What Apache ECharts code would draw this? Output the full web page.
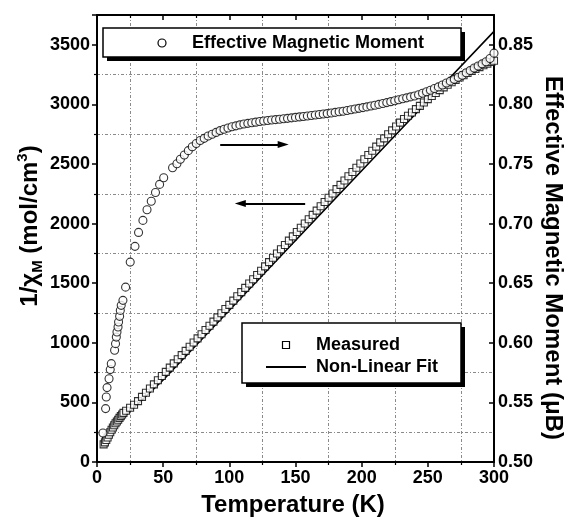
<!DOCTYPE html>
<html><head><meta charset="utf-8">
<script src="https://cdn.jsdelivr.net/npm/echarts@6/dist/echarts.min.js"></script>
<style>html,body{margin:0;padding:0;background:#fff}#c{width:566px;height:517px}</style>
</head><body><div id="c"></div>
<script>
// Effective magnetic moment (right axis, µB) vs temperature (K)
const circT = [4.5,6.5,7.0,7.6,9.1,10.0,10.8,13.3,14.0,14.6,15.1,15.9,16.3,17.1,17.6,18.3,19.6,21.6,25.1,28.7,31.4,34.7,37.8,41.0,44.2,47.3,50.4,57.1,60.4,
  63,66,69,72,75,78,81,84,87,90,93,96,99,102,105,108,111,114,117,120,123,126,129,132,135,138,141,144,147,150,
  153,156,159,162,165,168,171,174,177,180,183,186,189,192,195,198,201,204,207,210,213,216,219,222,225,228,231,234,237,240,
  243,246,249,252,255,258,261,264,267,270,273,276,279,282,285,288,291,294,297,300];
const circMu = [0.5243,0.5448,0.5545,0.5624,0.5699,0.5775,0.5825,0.5937,0.5993,0.6048,0.6090,0.6132,0.6174,0.6222,0.6272,0.6314,0.6356,0.6467,0.6677,0.6809,0.6926,0.7027,0.7116,0.7188,0.7261,0.7329,0.7385,0.7469,0.7502,
  0.7540,0.7575,0.7612,0.7645,0.7672,0.7697,0.7715,0.7735,0.7750,0.7765,0.7780,0.7792,0.7802,0.7812,0.7820,0.7828,0.7835,0.7841,0.7846,0.7851,0.7856,0.7861,0.7865,0.7869,0.7872,0.7876,0.7879,0.7883,0.7887,0.7891,
  0.7895,0.7899,0.7903,0.7907,0.7911,0.7915,0.7919,0.7923,0.7928,0.7933,0.7938,0.7943,0.7949,0.7955,0.7961,0.7967,0.7973,0.7979,0.7986,0.7993,0.8000,0.8007,0.8015,0.8023,0.8031,0.8039,0.8047,0.8055,0.8063,0.8071,
  0.8081,0.8093,0.8106,0.8119,0.8133,0.8147,0.8163,0.8180,0.8195,0.8210,0.8228,0.8245,0.8265,0.8285,0.8305,0.8322,0.8340,0.8358,0.8385,0.8430];

// Measured 1/chi_M (left axis, mol/cm^3)
const sqT = [5,6,7,8,9,10,11,12,13,14,15,16,17,18,19,20,22,
  25,28,31,34,37,40,43,46,49,52,55,58,61,64,67,70,73,76,79,82,85,88,91,94,97,100,
  103,106,109,112,115,118,121,124,127,130,133,136,139,142,145,148,151,154,157,160,163,166,169,172,175,178,181,184,187,190,193,196,199,
  202,205,208,211,214,217,220,223,226,229,232,235,238,241,244,247,250,253,256,259,262,265,268,271,274,277,280,283,286,289,292,295,298,300];
const sqV = [148,165,185,205,228,250,270,290,308,325,340,355,370,385,398,412,430,
  455,480,511,546,581,616,651,686,721,756,792,827,862,897,932,967,1002,1037,1072,1107,1143,1178,1213,1248,1283,1318,
  1354,1390,1425,1461,1497,1533,1569,1605,1641,1677,1713,1749,1785,1821,1857,1893,1929,1965,2001,2037,2073,2109,2145,2181,2217,2253,2289,2325,2361,2397,2433,2469,2504,
  2540,2576,2611,2646,2681,2715,2749,2782,2815,2847,2877,2905,2932,2960,2988,3016,3044,3070,3096,3120,3143,3165,3186,3206,3226,3245,3263,3280,3297,3313,3328,3342,3356,3366];

// Non-linear fit (left axis)
const fitT = [4,10,20,30,50,100,150,200,250,300];
const fitV = [200,262,372,478,688,1273,1858,2443,3028,3613];

// Annotation arrows (data coordinates)
const arrowRight = { from: [93.1, 0.7664], to: [140.7, 0.7664] };   // points to right axis
const arrowLeft  = { from: [157.3, 2169], to: [108.3, 2169] };      // points to left axis

const FONT = 'Liberation Sans, Arial, sans-serif';
const chart = echarts.init(document.getElementById('c'), null, {renderer:'canvas'});

const gridLine = {show:true, lineStyle:{color:'#8a8a8a', width:1, type:[3,2,1,2]}};
const axisLineStyle = {color:'#000', width:2};

const option = {
  animation:false,
  backgroundColor:'#fff',
  grid:{left:97, right:72, top:15, bottom:55, containLabel:false},
  xAxis:[
    {type:'value', min:0, max:300, interval:50, position:'bottom',
     axisLine:{show:true, onZero:false, lineStyle:axisLineStyle},
     axisTick:{show:true, inside:false, length:5, lineStyle:{color:'#000', width:1.5}},
     minorTick:{show:true, splitNumber:2, length:3, lineStyle:{color:'#000', width:1.2}},
     axisLabel:{fontFamily:FONT, fontWeight:'bold', fontSize:18, color:'#000', margin:7, formatter:v=>String(v)},
     splitLine:{show:false},
     minorSplitLine:gridLine},
    {type:'value', min:0, max:300, interval:50, position:'top',
     axisLine:{show:true, onZero:false, lineStyle:axisLineStyle},
     axisTick:{show:true, inside:true, length:5, lineStyle:{color:'#000', width:1.5}},
     minorTick:{show:true, splitNumber:2, length:3, lineStyle:{color:'#000', width:1.2}},
     axisLabel:{show:false}, splitLine:{show:false}}
  ],
  yAxis:[
    {type:'value', min:0, max:3750, interval:500, position:'left',
     axisLine:{show:true, onZero:false, lineStyle:axisLineStyle},
     axisTick:{show:true, inside:false, length:5, lineStyle:{color:'#000', width:1.5}},
     minorTick:{show:true, splitNumber:2, length:3, lineStyle:{color:'#000', width:1.2}},
     axisLabel:{fontFamily:FONT, fontWeight:'bold', fontSize:18, color:'#000', margin:7, showMaxLabel:false, formatter:v=>String(v)},
     splitLine:{show:false},
     minorSplitLine:gridLine},
    {type:'value', min:0.5, max:0.875, interval:0.05, position:'right',
     axisLine:{show:true, onZero:false, lineStyle:axisLineStyle},
     axisTick:{show:true, inside:true, length:5, lineStyle:{color:'#000', width:1.5}},
     axisLabel:{fontFamily:FONT, fontWeight:'bold', fontSize:18, color:'#000', margin:4, showMaxLabel:false,
       formatter:(v)=>v.toFixed(2)},
     splitLine:{show:false}}
  ],
  series:[
    {type:'line', name:'Non-Linear Fit', xAxisIndex:0, yAxisIndex:0,
     data:fitT.map((t,i)=>[t,fitV[i]]), showSymbol:false, symbol:'none',
     lineStyle:{color:'#000', width:1.6}, z:3},
    {type:'scatter', name:'Measured', xAxisIndex:0, yAxisIndex:0,
     data:sqT.map((t,i)=>[t,sqV[i]]), symbol:'rect', symbolSize:7,
     itemStyle:{color:'#fff', borderColor:'#000', borderWidth:1.1}, z:4,
     markLine:{silent:true, symbol:['none','triangle'], symbolSize:[7,11], label:{show:false},
       lineStyle:{color:'#000', width:2, type:'solid'},
       data:[[{coord:arrowLeft.from},{coord:arrowLeft.to}]]}},
    {type:'scatter', name:'Effective Magnetic Moment', xAxisIndex:0, yAxisIndex:1,
     data:circT.map((t,i)=>[t,circMu[i]]), symbol:'circle', symbolSize:8,
     itemStyle:{color:'#fff', borderColor:'#000', borderWidth:1.1}, z:5,
     markLine:{silent:true, symbol:['none','triangle'], symbolSize:[7,11], label:{show:false},
       lineStyle:{color:'#000', width:2, type:'solid'},
       data:[[{coord:arrowRight.from},{coord:arrowRight.to}]]}}
  ],
  graphic:[
    // legend 1
    {type:'rect', shape:{x:107, y:32, width:358, height:29}, style:{fill:'#000'}, z:10},
    {type:'rect', shape:{x:103, y:28, width:358, height:29}, style:{fill:'#fff', stroke:'#000', lineWidth:1.5}, z:11},
    {type:'circle', shape:{cx:162, cy:43, r:4}, style:{fill:'#fff', stroke:'#000', lineWidth:1.2}, z:12},
    {type:'text', x:192, y:43, style:{text:'Effective Magnetic Moment', font:'bold 18px '+FONT, fill:'#000', textVerticalAlign:'middle', textAlign:'left'}, z:12},
    // legend 2
    {type:'rect', shape:{x:246, y:327, width:219, height:60}, style:{fill:'#000'}, z:10},
    {type:'rect', shape:{x:242, y:323, width:219, height:60}, style:{fill:'#fff', stroke:'#000', lineWidth:1.5}, z:11},
    {type:'rect', shape:{x:282.5, y:341.5, width:7, height:7}, style:{fill:'#fff', stroke:'#000', lineWidth:1.2}, z:12},
    {type:'line', shape:{x1:266, y1:367, x2:306, y2:367}, style:{stroke:'#000', lineWidth:1.8}, z:12},
    {type:'text', x:316, y:345, style:{text:'Measured', font:'bold 18px '+FONT, fill:'#000', textVerticalAlign:'middle', textAlign:'left'}, z:12},
    {type:'text', x:316, y:367, style:{text:'Non-Linear Fit', font:'bold 18px '+FONT, fill:'#000', textVerticalAlign:'middle', textAlign:'left'}, z:12},
    // axis titles
    {type:'text', x:293, y:505, style:{text:'Temperature (K)', font:'bold 24px '+FONT, fill:'#000', textAlign:'center', textVerticalAlign:'middle'}, z:12},
    {type:'text', x:553, y:258, rotation:-Math.PI/2,
     style:{text:'Effective Magnetic Moment (\u03bcB)', font:'bold 24px '+FONT, fill:'#000', textAlign:'center', textVerticalAlign:'middle'}, z:12},
    {type:'text', x:30, y:226, rotation:Math.PI/2,
     style:{text:'1/\u03c7{sub|M} (mol/cm{sup|3})', font:'bold 24px '+FONT, fill:'#000', textAlign:'center', textVerticalAlign:'middle', lineHeight:30,
       rich:{sub:{fontFamily:FONT, fontWeight:'bold', fontSize:15, lineHeight:14, verticalAlign:'bottom'},
             sup:{fontFamily:FONT, fontWeight:'bold', fontSize:15, lineHeight:14, verticalAlign:'top'}}}, z:12}
  ]
};
chart.setOption(option);
</script>
</body></html>
